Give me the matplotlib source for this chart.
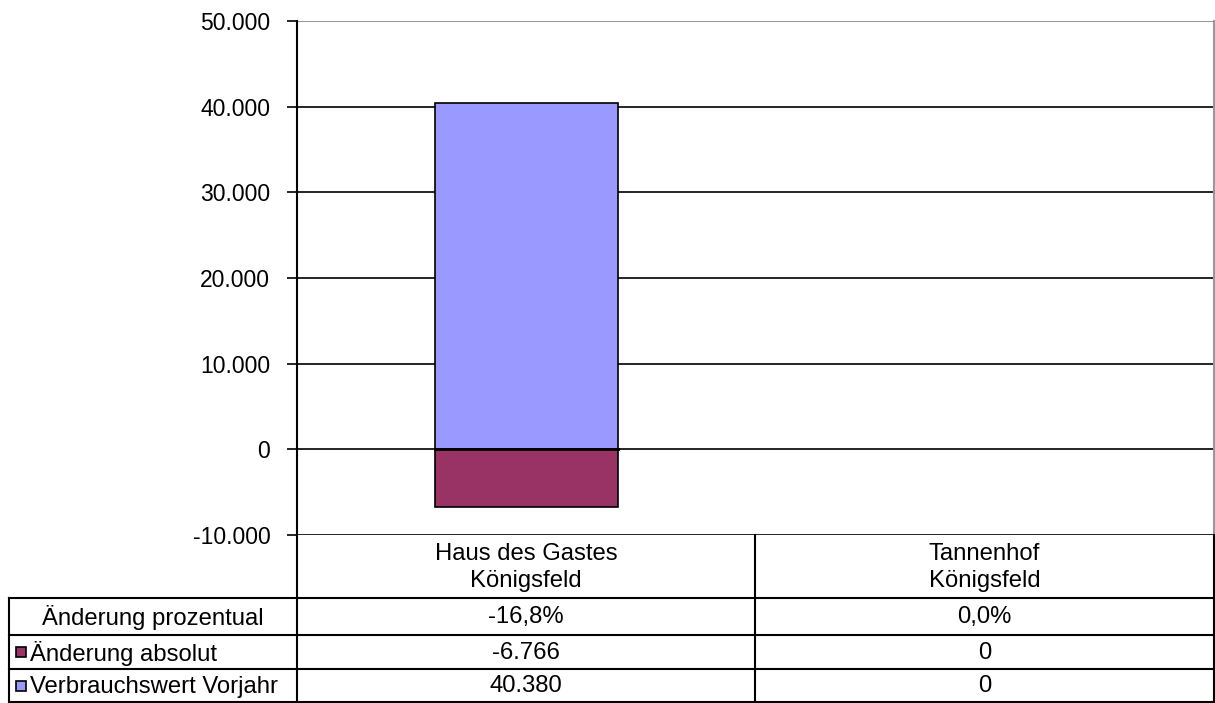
import matplotlib
matplotlib.use("Agg")
import matplotlib.pyplot as plt
from matplotlib.patches import Rectangle
from matplotlib.ticker import FuncFormatter

plt.rcParams['font.family'] = ['Liberation Sans', 'DejaVu Sans']

categories = ["Haus des Gastes\nKönigsfeld", "Tannenhof\nKönigsfeld"]
aenderung_prozentual = ["-16,8%", "0,0%"]
aenderung_absolut = [-6766, 0]
verbrauch_vorjahr = [40380, 0]
series_names = ["Änderung absolut", "Verbrauchswert Vorjahr"]
series_colors = ["#993366", "#9999FF"]
y_ticks = [-10000, 0, 10000, 20000, 30000, 40000, 50000]

W, H = 1215, 703
FS = 16.5
TFS = 17.2
fig = plt.figure(figsize=(W / 100, H / 100), dpi=100)

# plot area in pixel coordinates
L, R, T, B = 297, 1214, 21, 535
ax = fig.add_axes([L / W, 1 - B / H, (R - L) / W, (B - T) / H])
x = list(range(len(categories)))
bw = 0.40

def fmt(v):
    return f"{int(v):,}".replace(",", ".")

# stacked bars (negatives stacked downward from 0)
pos = [0] * len(x)
neg = [0] * len(x)
for vals, col in [(verbrauch_vorjahr, series_colors[1]), (aenderung_absolut, series_colors[0])]:
    for i, v in enumerate(vals):
        if v == 0:
            continue
        if v > 0:
            ax.bar(x[i], v, bottom=pos[i], width=bw, color=col, edgecolor="black", linewidth=1.2, zorder=3)
            pos[i] += v
        else:
            ax.bar(x[i], v, bottom=neg[i], width=bw, color=col, edgecolor="black", linewidth=1.2, zorder=3)
            neg[i] += v

ax.set_xlim(-0.5, len(x) - 0.5)
ax.set_ylim(y_ticks[0], y_ticks[-1])
ax.set_yticks(y_ticks)
ax.yaxis.set_major_formatter(FuncFormatter(lambda v, p: fmt(v)))
ax.set_xticks([])
ax.tick_params(axis='y', direction='out', length=7.2, width=1.2, pad=12, labelsize=FS, colors='black')
for t in y_ticks[:-1]:
    ax.axhline(t, color='black', linewidth=1.2, zorder=2)
ax.axhline(0, color='black', linewidth=2.0, zorder=4, xmin=(x[0] - bw / 2 + 0.5) / len(x), xmax=(x[0] + bw / 2 + 0.5) / len(x))
ax.axhline(y_ticks[-1], color='#999999', linewidth=1.5, zorder=2)
for s in ['top', 'right', 'bottom']:
    ax.spines[s].set_visible(False)
ax.spines['left'].set_linewidth(1.5)
ax.spines['left'].set_color('black')
ax.axvline(len(x) - 0.5, color='#999999', linewidth=1.5, clip_on=False)

# data table overlay in pixel coordinates
tx = fig.add_axes([0, 0, 1, 1], zorder=5)
tx.set_xlim(0, W)
tx.set_ylim(H, 0)
tx.axis('off')
tx.patch.set_alpha(0)

lw = 1.5
row_y = [598, 635, 669, 702]
col_x = [L, 755, R]
# vertical lines
for cx in col_x:
    tx.plot([cx, cx], [B, 702], color='black', linewidth=lw)
tx.plot([9, 9], [row_y[0], 702], color='black', linewidth=lw)
# horizontal lines
for ry in row_y:
    tx.plot([9, R], [ry, ry], color='black', linewidth=lw)

col_centers = [(col_x[i] + col_x[i + 1]) / 2 for i in range(len(categories))]
for cxm, cat in zip(col_centers, categories):
    tx.text(cxm, (B + row_y[0]) / 2 + 1, cat, ha='center', va='center', fontsize=TFS, linespacing=1.25)

row_centers = [(row_y[i] + row_y[i + 1]) / 2 for i in range(3)]
row_values = [aenderung_prozentual,
              [fmt(v) for v in aenderung_absolut],
              [fmt(v) for v in verbrauch_vorjahr]]
for rc, vals in zip(row_centers, row_values):
    for cxm, v in zip(col_centers, vals):
        tx.text(cxm, rc + 1, v, ha='center', va='center', fontsize=TFS)

# row labels
tx.text((9 + L) / 2, row_centers[0] + 1, "Änderung prozentual", ha='center', va='center', fontsize=TFS)
for rc, name, col in zip(row_centers[1:], series_names, series_colors):
    tx.add_patch(Rectangle((16, rc - 5), 10, 10, facecolor=col, edgecolor='black', linewidth=1.2))
    tx.text(30, rc + 1, name, ha='left', va='center', fontsize=TFS)

fig.savefig("out.png", dpi=100)
